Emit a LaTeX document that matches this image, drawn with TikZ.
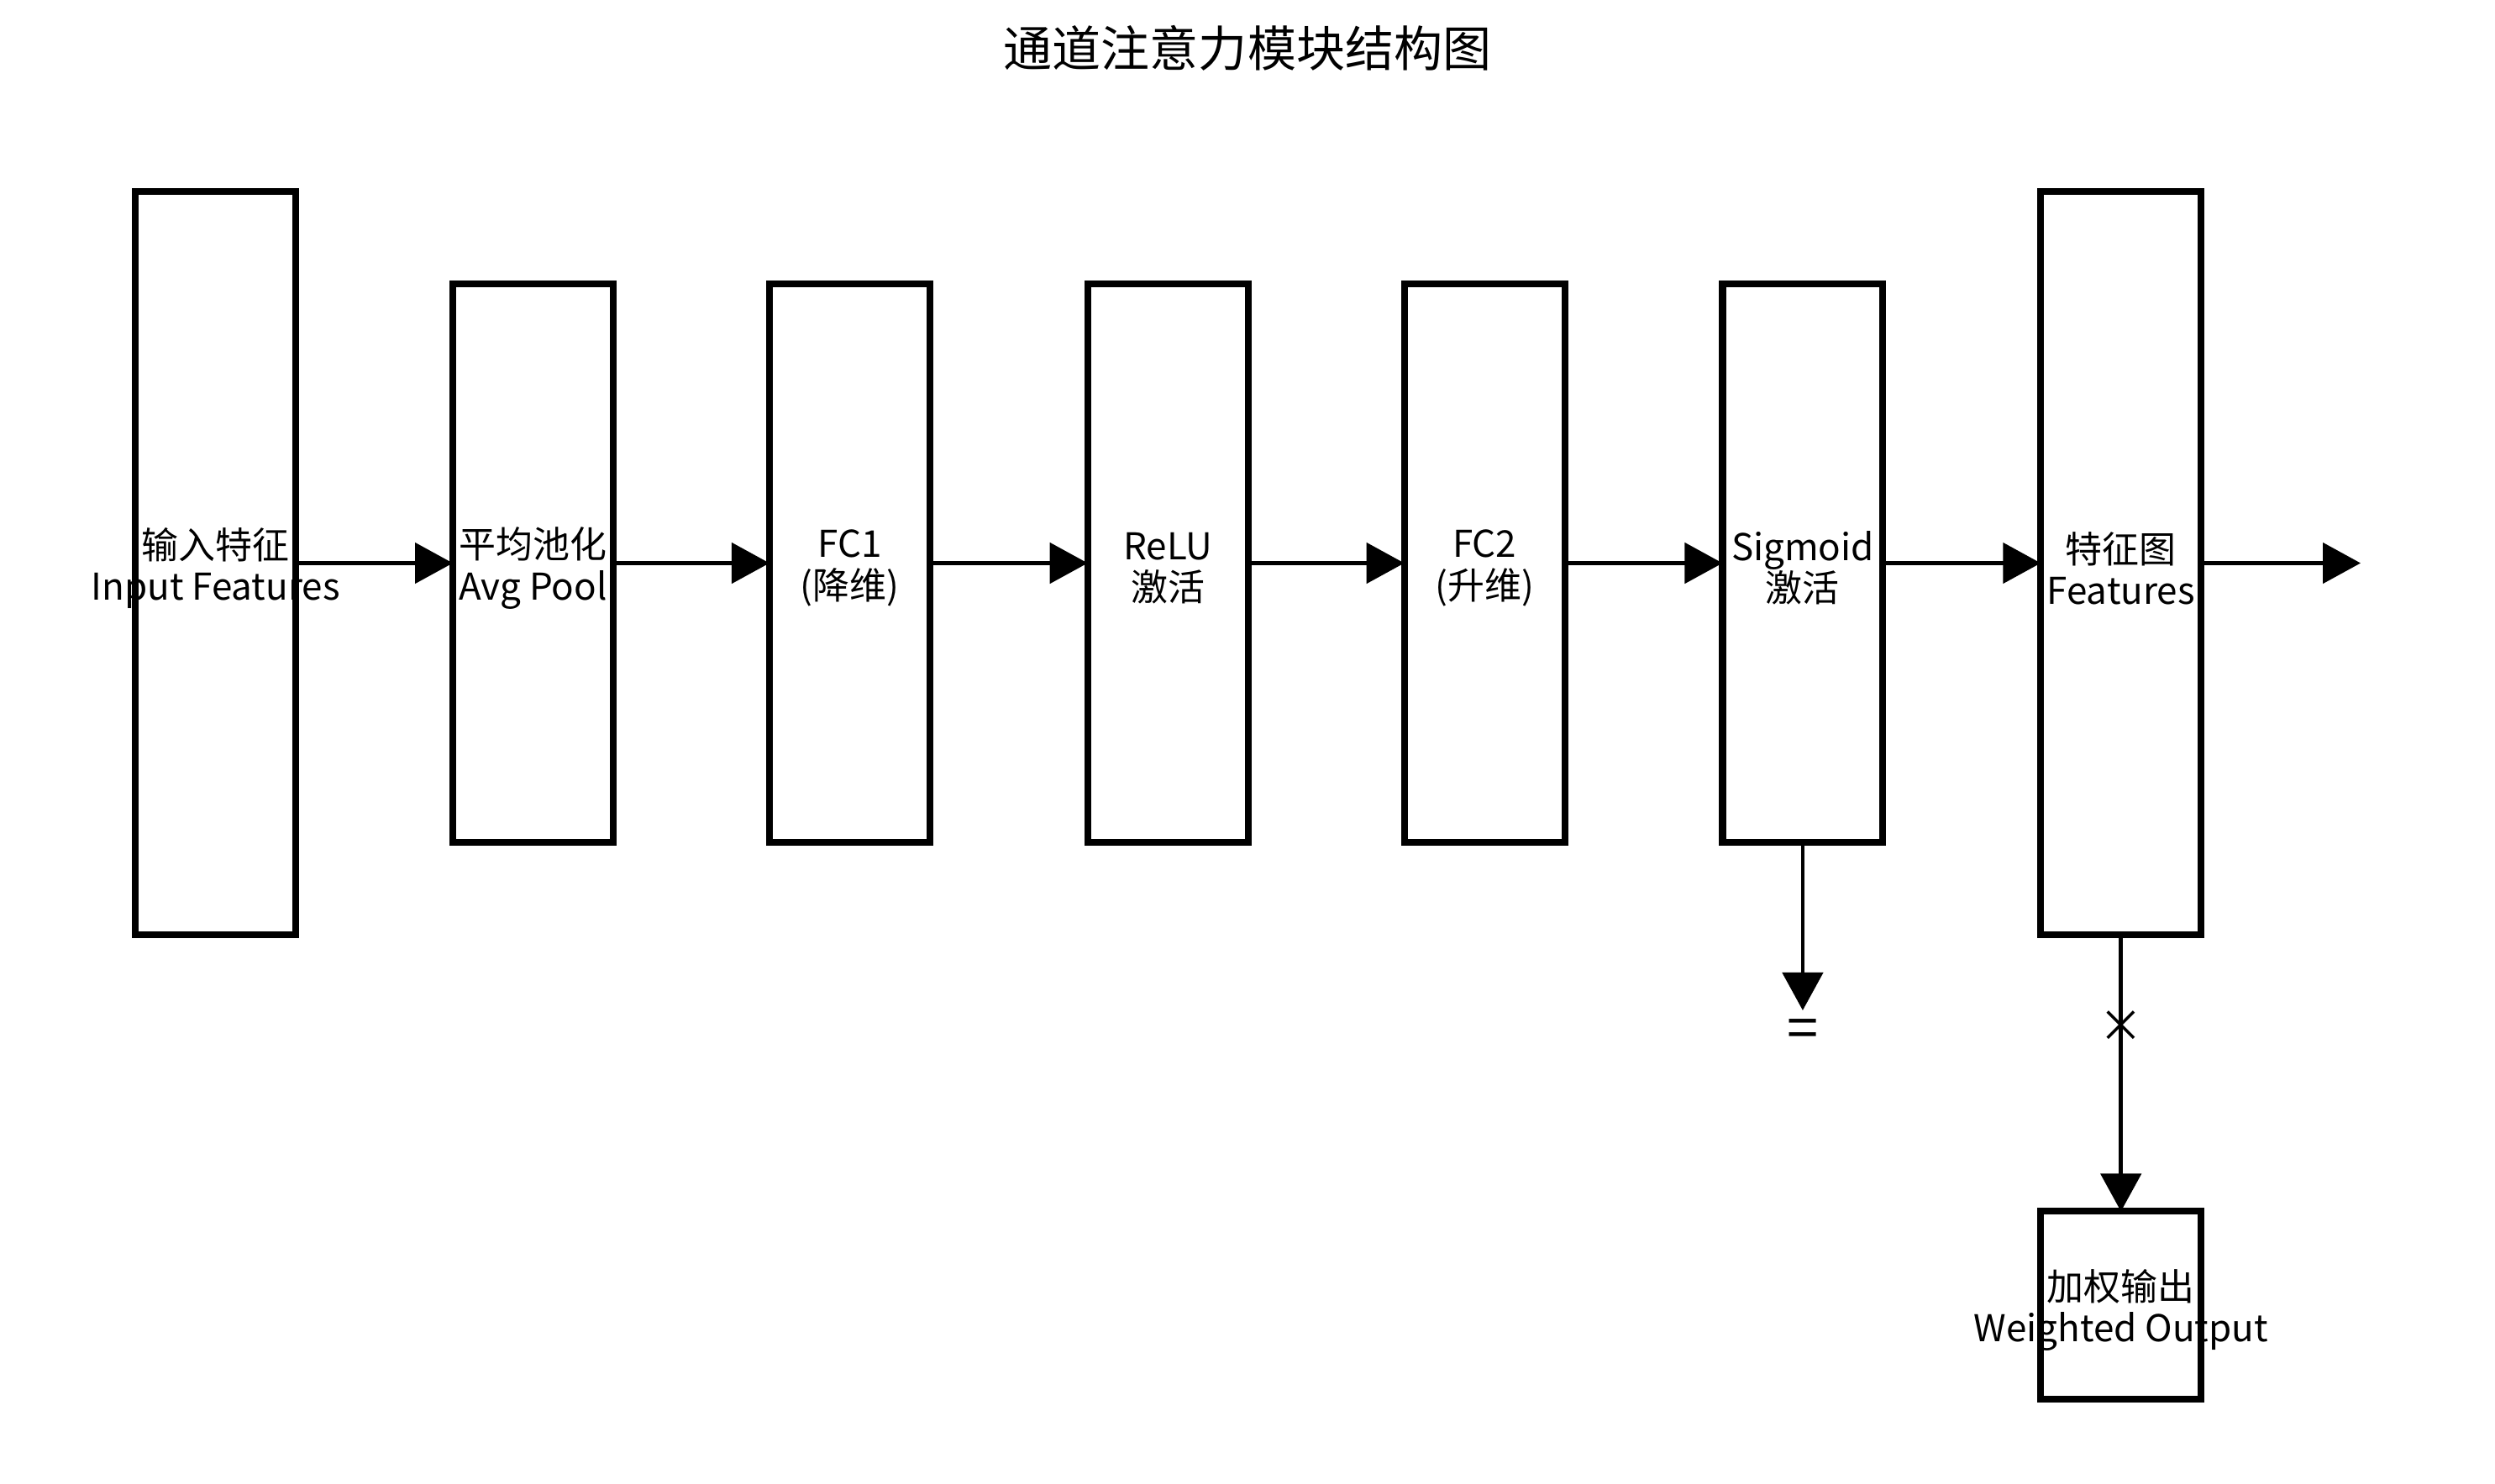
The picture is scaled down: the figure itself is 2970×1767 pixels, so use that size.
\documentclass[tikz,border=0pt]{standalone}
\usepackage{fontspec}
\setmainfont{Noto Sans CJK SC}
\usetikzlibrary{arrows.meta}
\begin{document}
\begin{tikzpicture}[x=0.01cm,y=-0.01cm,
  blk/.style={minimum width=1.894cm, inner sep=0pt},
  tall/.style={blk, minimum height=8.826cm},
  short/.style={blk, minimum height=6.629cm},
  small/.style={blk, minimum height=2.216cm},
  lbl/.style={inner sep=0pt, align=center, yshift=-0.06cm,
    font=\fontsize{12.5}{14}\selectfont},
  frame/.style={draw=black, line width=2.3pt},
  conn/.style={draw=black, line width=1.35pt, -{Triangle[length=0.45cm,width=0.48cm]}},
  sym/.style={inner sep=0pt, font=\fontsize{19}{21}\selectfont}
]
\useasboundingbox (0,0) rectangle (2970,1767);

\node[font=\fontsize{16.5}{20}\selectfont, inner sep=0pt] (title) at (1485,57) {通道注意力模块结构图};

\node[tall]  (b1) at (256.6,670.5)  {};
\node[short] (b2) at (634.5,670.5)  {};
\node[short] (b3) at (1011.4,670.5) {};
\node[short] (b4) at (1390.2,670.5) {};
\node[short] (b5) at (1767.1,670.5) {};
\node[short] (b6) at (2145.9,670.5) {};
\node[tall]  (b7) at (2524.7,670.5) {};
\node[small] (b8) at (2524.7,1554)  {};

\node[lbl] (t1) at (b1) {输入特征\\Input Features};
\node[lbl] (t2) at (b2) {平均池化\\Avg Pool};
\node[lbl] (t3) at (b3) {FC1\\(降维)};
\node[lbl] (t4) at (b4) {ReLU\\激活};
\node[lbl] (t5) at (b5) {FC2\\(升维)};
\node[lbl] (t6) at (b6) {Sigmoid\\激活};
\node[lbl] (t7) at (b7) {特征图\\Features};
\node[lbl] (t8) at (b8) {加权输出\\Weighted Output};

\foreach \n in {b1,b2,b3,b4,b5,b6,b7,b8}
  \draw[frame] (\n.north west) rectangle (\n.south east);

\coordinate (out) at (2810,670.5);
\coordinate (sigend) at (2145.9,1203);

\draw[conn] (b1.east) -- (b2.west);
\draw[conn] (b2.east) -- (b3.west);
\draw[conn] (b3.east) -- (b4.west);
\draw[conn] (b4.east) -- (b5.west);
\draw[conn] (b5.east) -- (b6.west);
\draw[conn] (b6.east) -- (b7.west);
\draw[conn] (b7.east) -- (out);
\draw[conn] (b6.south) -- (sigend);
\node[sym] (eq) at (2145.9,1231) {=};
\draw[conn] (b7.south) -- (b8.north);
\node[sym, font=\fontsize{15}{17}\selectfont] (times) at (2524.7,1222) {×};
\end{tikzpicture}
\end{document}
